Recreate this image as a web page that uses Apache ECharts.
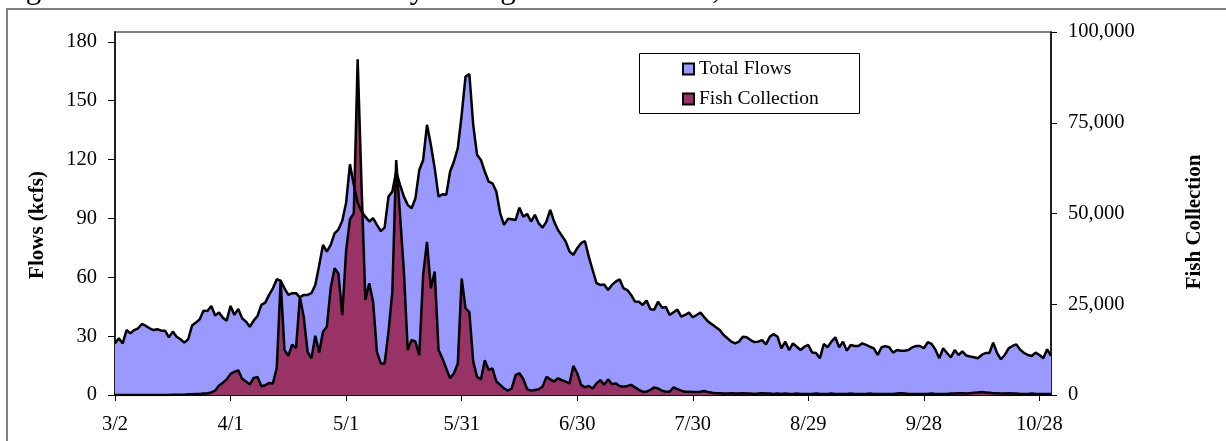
<!DOCTYPE html>
<html>
<head>
<meta charset="utf-8">
<script src="https://cdn.jsdelivr.net/npm/echarts@6/dist/echarts.min.js"></script>
<style>
html,body{margin:0;padding:0;background:#fff;}
#chart{width:1226px;height:441px;}
</style>
</head>
<body>
<div id="chart"></div>
<script>
// Daily categories, 3/2 through 10/31 (2020)
const startDate = [2020, 2, 2]; // year, month (0-based), day
const dayCount = 244;
const categories = [];
for (let i = 0; i < dayCount; i++) {
  const dt = new Date(Date.UTC(startDate[0], startDate[1], startDate[2] + i));
  categories.push((dt.getUTCMonth() + 1) + '/' + dt.getUTCDate());
}

const flowTicks = [0, 30, 60, 90, 120, 150, 180];

// Total flows (kcfs), daily
const totalFlows = [
  26.3, 28.9, 26.3, 33.1, 31.4, 33.1, 34.0, 36.2, 35.2, 34.0,
  33.1, 33.5, 32.8, 32.8, 29.4, 32.3, 29.7, 28.4, 26.7, 28.4,
  35.4, 36.9, 38.6, 43.0, 42.8, 45.4, 40.5, 42.0, 39.4, 37.9,
  45.4, 40.8, 43.9, 39.1, 37.4, 34.8, 37.9, 40.3, 45.9, 47.1,
  51.0, 54.4, 59.0, 58.3, 54.4, 51.0, 51.9, 51.9, 49.8, 51.0,
  51.0, 51.9, 56.1, 66.0, 76.5, 73.1, 76.5, 82.4, 84.3, 88.8,
  98.0, 117.6, 107.0, 98.0, 93.5, 90.9, 88.4, 90.1, 86.7, 83.6,
  85.3, 101.1, 103.7, 113.9, 107.1, 101.1, 96.9, 95.2, 100.3, 114.7,
  119.8, 137.7, 127.5, 115.6, 101.1, 102.3, 102.0, 113.9, 119.0, 125.8,
  142.8, 162.3, 163.5, 137.7, 122.4, 119.8, 113.9, 108.8, 107.9, 103.7,
  92.6, 86.7, 89.8, 89.6, 89.2, 95.5, 90.8, 92.3, 88.4, 91.8,
  87.5, 85.3, 88.4, 94.3, 88.4, 84.1, 81.2, 78.2, 73.1, 71.4,
  74.8, 77.4, 78.5, 70.5, 63.7, 57.0, 56.1, 56.3, 53.5, 56.1,
  57.8, 59.0, 54.4, 53.5, 51.0, 47.6, 47.5, 45.9, 48.1, 43.7,
  43.5, 47.6, 44.5, 44.9, 40.8, 42.2, 43.5, 39.9, 40.8, 42.0,
  39.6, 40.8, 42.0, 39.6, 37.4, 36.0, 34.5, 33.1, 30.6, 28.9,
  27.2, 26.3, 27.2, 29.7, 29.4, 28.0, 27.0, 27.2, 28.0, 25.8,
  29.7, 31.1, 29.7, 23.8, 27.2, 22.9, 26.3, 24.6, 22.9, 24.6,
  25.5, 21.6, 21.4, 18.7, 26.0, 24.3, 27.2, 29.4, 24.3, 27.2,
  22.6, 25.5, 25.0, 25.0, 26.3, 25.5, 24.6, 23.8, 20.4, 24.3,
  24.9, 24.3, 21.6, 22.9, 22.6, 22.6, 22.9, 24.3, 25.0, 25.0,
  23.8, 26.9, 26.0, 23.1, 18.7, 23.8, 21.4, 19.2, 22.9, 20.4,
  22.2, 20.1, 19.6, 19.2, 18.7, 20.4, 21.4, 21.4, 26.7, 21.4,
  18.2, 20.4, 23.8, 25.0, 25.8, 23.1, 21.4, 20.4, 19.9, 21.6,
  20.4, 18.7, 23.3, 19.9
];

// Fish collection (count), daily
const fishCollection = [
  0, 0, 0, 0, 0, 0, 0, 0, 0, 0,
  0, 0, 0, 0, 0, 100, 100, 100, 100, 200,
  200, 300, 300, 400, 500, 700, 1200, 2600, 3400, 4300,
  5800, 6400, 6800, 4500, 3700, 2900, 4700, 5000, 2400, 2700,
  3300, 3200, 7500, 31500, 12400, 10800, 13900, 12900, 27100, 21500,
  11900, 10100, 16300, 11700, 17400, 18800, 29500, 34900, 33500, 22000,
  39700, 48400, 50100, 92500, 58000, 26200, 30800, 25700, 11900, 8700,
  8700, 17400, 28500, 64700, 49600, 34000, 12400, 15200, 14700, 11000,
  33100, 42200, 29400, 34000, 12400, 10100, 7300, 4600, 6000, 8700,
  32100, 23900, 22800, 9200, 5000, 4300, 9600, 6900, 7300, 3700,
  2800, 1800, 1200, 1800, 5500, 6000, 4400, 1600, 1200, 1400,
  1600, 2300, 5000, 4300, 3700, 4600, 4100, 3700, 3200, 8000,
  6000, 2800, 2100, 2500, 1800, 3200, 4100, 2800, 4300, 3000,
  3200, 2500, 2300, 2500, 2800, 2100, 1400, 900, 900, 1400,
  2100, 1800, 1200, 900, 900, 2100, 1600, 1200, 900, 900,
  800, 800, 900, 1100, 800, 600, 500, 500, 400, 400,
  500, 400, 400, 500, 400, 400, 300, 400, 500, 400,
  400, 300, 400, 300, 400, 300, 300, 400, 300, 300,
  300, 300, 400, 300, 300, 300, 400, 300, 300, 300,
  300, 400, 300, 300, 300, 300, 400, 300, 300, 300,
  300, 300, 300, 400, 500, 400, 300, 300, 300, 300,
  300, 300, 400, 300, 300, 300, 300, 400, 400, 500,
  500, 400, 500, 600, 700, 800, 700, 600, 500, 500,
  400, 400, 500, 400, 400, 300, 300, 300, 400, 300,
  300, 300, 300, 300
];

const FONT = 'Liberation Serif';
const chart = echarts.init(document.getElementById('chart'), null, {renderer: 'canvas'});

chart.setOption({
  animation: false,
  backgroundColor: '#ffffff',
  textStyle: {fontFamily: FONT},
  grid: {
    left: 115, right: 175, top: 32, bottom: 46,
    show: true, borderColor: '#808080', borderWidth: 2,
    backgroundColor: 'transparent'
  },
  legend: {
    data: ['Total Flows', 'Fish Collection'],
    orient: 'vertical',
    left: 682, top: 59,
    icon: 'rect',
    itemWidth: 11, itemHeight: 11, itemGap: 10,
    itemStyle: {borderColor: '#000', borderWidth: 2},
    textStyle: {fontFamily: FONT, fontSize: 19.5, color: '#000', lineHeight: 20},
    padding: 0
  },
  xAxis: {
    type: 'category',
    data: categories,
    boundaryGap: false,
    axisLine: {lineStyle: {color: '#000', width: 2}},
    axisTick: {interval: 29, length: 6, lineStyle: {color: '#000', width: 1}},
    axisLabel: {interval: 29, margin: 19, fontFamily: FONT, fontSize: 20.5, color: '#000'},
    splitLine: {show: false}
  },
  yAxis: [
    {
      type: 'value', min: 0, max: 185, interval: 30,
      axisLine: {show: true, lineStyle: {color: '#000', width: 1.5}},
      axisTick: {show: true, length: 7, customValues: flowTicks, lineStyle: {color: '#000'}},
      axisLabel: {margin: 18, customValues: flowTicks, fontFamily: FONT, fontSize: 20.5, color: '#000'},
      splitLine: {show: false}
    },
    {
      type: 'value', min: 0, max: 100000, interval: 25000, position: 'right',
      axisLine: {show: true, lineStyle: {color: '#000', width: 1.5}},
      axisTick: {show: true, length: 6, lineStyle: {color: '#000'}},
      axisLabel: {
        margin: 17, fontFamily: FONT, fontSize: 20.5, color: '#000',
        formatter: v => v.toLocaleString('en-US')
      },
      splitLine: {show: false}
    }
  ],
  series: [
    {
      name: 'Total Flows', type: 'line', yAxisIndex: 0,
      data: totalFlows, symbol: 'none', smooth: false,
      itemStyle: {color: '#9999FF'},
      lineStyle: {color: '#000', width: 2.5},
      areaStyle: {color: '#9999FF', opacity: 1}
    },
    {
      name: 'Fish Collection', type: 'line', yAxisIndex: 1,
      data: fishCollection, symbol: 'none', smooth: false,
      itemStyle: {color: '#993366'},
      lineStyle: {color: '#000', width: 2.5},
      areaStyle: {color: '#993366', opacity: 1}
    }
  ],
  graphic: [
    {
      type: 'rect', z: -1,
      shape: {x: 7, y: 9, width: 1240, height: 460},
      style: {fill: 'transparent', stroke: '#808080', lineWidth: 2}
    },
    {
      type: 'text', left: 0, top: -26,
      style: {
        text: 'Figure 2. Fish collection and daily average flows at LWG, 2020.',
        font: '31px "Liberation Serif"', fill: '#000'
      }
    },
    {
      type: 'rect', z: 0,
      shape: {x: 639.5, y: 53.5, width: 220, height: 60},
      style: {fill: '#fff', stroke: '#000', lineWidth: 1}
    },
    {
      type: 'text', x: 37.5, y: 225, rotation: Math.PI / 2,
      style: {
        text: 'Flows (kcfs)', font: 'bold 21px "Liberation Serif"', fill: '#000',
        align: 'center', verticalAlign: 'middle'
      }
    },
    {
      type: 'text', x: 1195, y: 222, rotation: Math.PI / 2,
      style: {
        text: 'Fish Collection', font: 'bold 21px "Liberation Serif"', fill: '#000',
        align: 'center', verticalAlign: 'middle'
      }
    }
  ]
});
</script>
</body>
</html>
